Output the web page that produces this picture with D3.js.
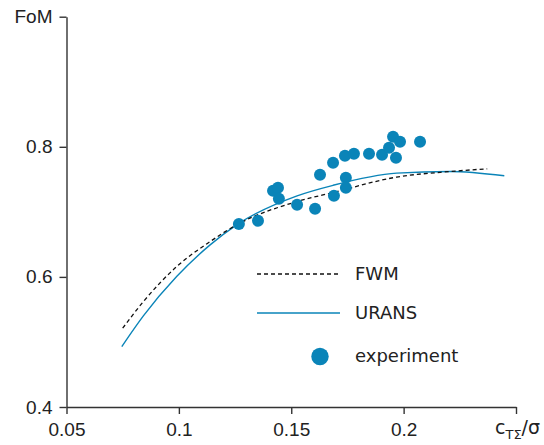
<!DOCTYPE html>
<html>
<head>
<meta charset="utf-8">
<script src="https://cdn.jsdelivr.net/npm/d3@7"></script>
<style>
  body { margin: 0; background: #fff; }
  svg { display: block; font-family: "DejaVu Sans", sans-serif; }
  .axis path, .axis line { stroke: #333; stroke-width: 1.4; }
  .axis text { font-size: 19px; fill: #222; }
  .legend text { font-size: 18px; fill: #222; }
</style>
</head>
<body>
<svg width="544" height="445"></svg>
<script>
// experiment points
const expX = [0.1267, 0.1352, 0.1419, 0.1441, 0.1445, 0.1526, 0.1606, 0.1628, 0.1686, 0.1690,
              0.1739, 0.1743, 0.1743, 0.1779, 0.1846, 0.1904, 0.1935, 0.1953, 0.1984, 0.1966, 0.2073];
const expY = [0.6815, 0.6862, 0.7323, 0.7369, 0.7200, 0.7108, 0.7046, 0.7569, 0.7754, 0.7246,
              0.7862, 0.7523, 0.7369, 0.7892, 0.7892, 0.7877, 0.7985, 0.8154, 0.8077, 0.7831, 0.8077];

// URANS curve
const uransX = [0.0746, 0.0842, 0.0990, 0.1139, 0.1257, 0.1526, 0.1686, 0.1969, 0.2206, 0.2448];
const uransY = [0.4928, 0.5400, 0.6005, 0.6492, 0.6800, 0.7246, 0.7408, 0.7595, 0.7620, 0.7554];

// FWM curve
const fwmX = [0.0750, 0.0842, 0.0990, 0.1139, 0.1257, 0.1526, 0.1686, 0.1969, 0.2206, 0.2372];
const fwmY = [0.5211, 0.5620, 0.6158, 0.6543, 0.6800, 0.7158, 0.7297, 0.7534, 0.7620, 0.7662];

const xTicks = [0.05, 0.1, 0.15, 0.2, 0.25];
const yTicks = [0.4, 0.6, 0.8, 1.0];

const blue = '#0a84b8';
const svg = d3.select('svg');

const xScale = d3.scaleLinear().domain([0.05, 0.25]).range([66.5, 516]);
const yScale = d3.scaleLinear().domain([0.4, 1.0]).range([407, 16.7]);

const line = d3.line()
  .x(d => xScale(d[0]))
  .y(d => yScale(d[1]))
  .curve(d3.curveMonotoneX);

// axes
svg.append('g')
    .attr('class', 'axis')
    .attr('transform', `translate(0,${yScale(0.4)})`)
    .call(d3.axisBottom(xScale)
      .tickValues(xTicks)
      .tickSize(7)
      .tickSizeOuter(0)
      .tickPadding(9)
      .tickFormat(d => d === 0.25 ? '' : String(d)));

svg.append('g')
    .attr('class', 'axis')
    .attr('transform', `translate(${xScale(0.05)},0)`)
    .call(d3.axisLeft(yScale)
      .tickValues(yTicks)
      .tickSize(7)
      .tickSizeOuter(0)
      .tickPadding(7)
      .tickFormat(d => d === 1.0 ? 'FoM' : d3.format('.1f')(d)));

svg.selectAll('.axis text').attr('font-family', null);
svg.selectAll('.axis .domain').attr('stroke', '#333');

// x axis label c_TΣ/σ
const xLabel = svg.append('text')
    .attr('x', 495)
    .attr('y', 434)
    .attr('fill', '#222')
    .style('font-size', '19px');
xLabel.append('tspan').text('c');
xLabel.append('tspan').attr('dy', 5).style('font-size', '13px').text('TΣ');
xLabel.append('tspan').attr('dy', -5).text('/σ');

// curves
const fwmData = fwmX.map((x, i) => [x, fwmY[i]]);
const uransData = uransX.map((x, i) => [x, uransY[i]]);
const expData = expX.map((x, i) => [x, expY[i]]);

svg.append('path')
    .datum(uransData)
    .attr('fill', 'none')
    .attr('stroke', blue)
    .attr('stroke-width', 1.4)
    .attr('d', line);

svg.append('path')
    .datum(fwmData)
    .attr('fill', 'none')
    .attr('stroke', '#111')
    .attr('stroke-width', 1.3)
    .attr('stroke-dasharray', '4,3')
    .attr('d', line);

svg.append('g')
  .selectAll('circle')
  .data(expData)
  .enter().append('circle')
    .attr('cx', d => xScale(d[0]))
    .attr('cy', d => yScale(d[1]))
    .attr('r', 6)
    .attr('fill', blue);

// legend
const legend = svg.append('g').attr('class', 'legend');
legend.append('line')
    .attr('x1', 257).attr('x2', 340)
    .attr('y1', 274).attr('y2', 274)
    .attr('stroke', '#111')
    .attr('stroke-width', 1.3)
    .attr('stroke-dasharray', '4,3');
legend.append('line')
    .attr('x1', 257).attr('x2', 340)
    .attr('y1', 313).attr('y2', 313)
    .attr('stroke', blue)
    .attr('stroke-width', 1.4);
legend.append('circle')
    .attr('cx', 320).attr('cy', 356.5)
    .attr('r', 8.7)
    .attr('fill', blue);

const legendLabels = ['FWM', 'URANS', 'experiment'];
const legendY = [274, 313, 356];
legend.selectAll('text')
  .data(legendLabels)
  .enter().append('text')
    .attr('x', 355)
    .attr('y', (d, i) => legendY[i])
    .attr('dy', '0.36em')
    .text(d => d);
</script>
</body>
</html>
